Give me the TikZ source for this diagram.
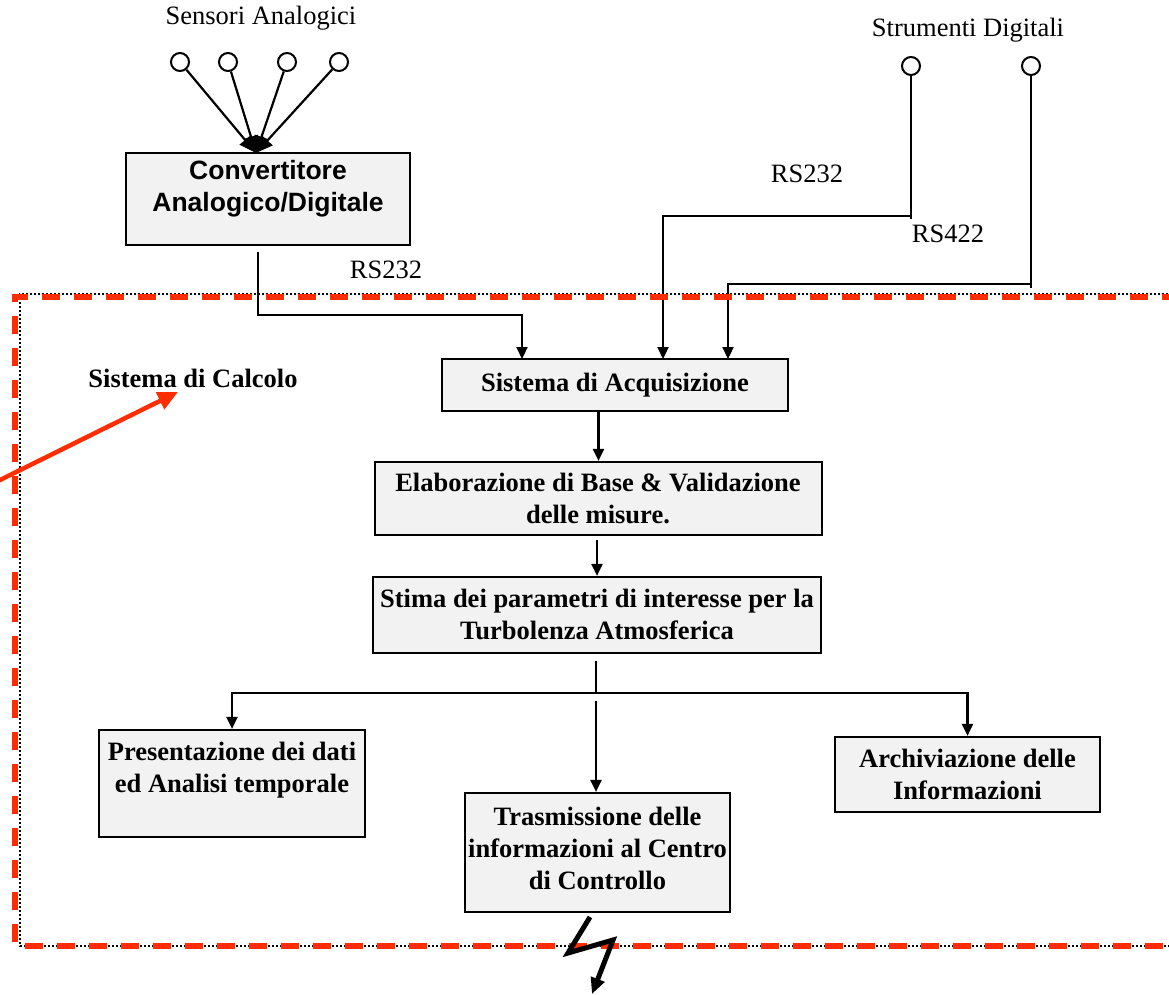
\documentclass[tikz,border=0pt]{standalone}
\usepackage{fontspec}
\setmainfont{Liberation Serif}
\newfontfamily\arialfont{Liberation Sans}
\usetikzlibrary{arrows.meta}
\definecolor{boxfill}{HTML}{F2F2F2}
\definecolor{framered}{RGB}{255,45,0}
\begin{document}
\begin{tikzpicture}[x=1pt,y=-1pt,
  box/.style={draw, line width=2.2pt, fill=boxfill, inner sep=0pt},
  txt/.style={font=\fontsize{26.5}{32}\selectfont, align=center, inner sep=0pt},
  btxt/.style={font=\fontsize{26.5}{32}\selectfont\bfseries, align=center, inner sep=0pt},
  atxt/.style={font=\arialfont\fontsize{26.5}{32}\selectfont\bfseries, align=center, inner sep=0pt},
  conn/.style={line width=2.2pt},
  arr/.style={conn, -{Triangle[length=12pt,width=11pt]}},
  sarr/.style={conn, -{Triangle[length=17pt,width=14pt]}},
  port/.style={circle, draw, line width=2pt, minimum size=18pt, inner sep=0pt, fill=white},
  blackframe/.style={line width=2.2pt, dash pattern=on 2pt off 2pt},
  redframe/.style={draw=framered, line width=5.5pt, dash pattern=on 18pt off 14pt},
  redarrow/.style={draw=framered, line width=4.5pt, -{Triangle[length=20pt,width=18pt]}, framered},
  bolt/.style={line width=5pt, line join=miter, -{Triangle[length=16pt,width=14pt]}}]

\useasboundingbox (0,0) rectangle (1169,994);

% ---- boxes ----
\node[box, minimum width=284pt, minimum height=92pt] (conv) at (268,199) {};
\node[atxt] (convt) at (268,189) {Convertitore\\Analogico/Digitale};

\node[box, minimum width=346pt, minimum height=52pt] (acq) at (615,385) {};
\node[btxt] (acqt) at (615,385) {Sistema di Acquisizione};

\node[box, minimum width=447pt, minimum height=73pt] (elab) at (598.5,498.5) {};
\node[btxt] (elabt) at (598,498) {Elaborazione di Base \& Validazione\\delle misure.};

\node[box, minimum width=448pt, minimum height=76pt] (stima) at (597,615) {};
\node[btxt] (stimat) at (597,614) {Stima dei parametri di interesse per la\\Turbolenza Atmosferica};

\node[box, minimum width=266pt, minimum height=107pt] (pres) at (232,783.5) {};
\node[btxt] (prest) at (232,770) {Presentazione dei dati\\ed Analisi temporale};

\node[box, minimum width=265pt, minimum height=119pt] (tras) at (597.5,852.5) {};
\node[btxt] (trast) at (597.5,848) {Trasmissione delle\\informazioni al Centro\\di Controllo};

\node[box, minimum width=265pt, minimum height=75pt] (arch) at (967.5,774.5) {};
\node[btxt] (archt) at (967.5,774) {Archiviazione delle\\Informazioni};

% ---- labels ----
\node[txt] (lsens) at (261,18) {Sensori Analogici};
\node[txt] (ldig) at (968,30) {Strumenti Digitali};
\node[txt] (lrs1) at (386,270) {RS232};
\node[txt] (lrs2) at (807,174) {RS232};
\node[txt] (lrs3) at (948,234) {RS422};
\node[btxt] (lcalc) at (193,378) {Sistema di Calcolo};

% ---- ports ----
\node[port] (s1) at (180,62) {};
\node[port] (s2) at (228,62) {};
\node[port] (s3) at (287,62) {};
\node[port] (s4) at (339,62) {};
\node[port] (d1) at (911,66) {};
\node[port] (d2) at (1031,66) {};

% ---- coordinates ----
\coordinate (cin) at (256,153);
\coordinate (c1) at (258,252);
\coordinate (j1) at (522,315);
\coordinate (a1) at (522,359);
\coordinate (a2) at (663,359);
\coordinate (a3) at (728,359);
\coordinate (k1) at (911,216);
\coordinate (k2) at (1031,284);
\coordinate (br) at (596,693);

% ---- connectors ----
\foreach \s in {s1,s2,s3,s4} \draw[sarr] (\s) -- (cin);
\draw[arr] (c1) |- (j1) -- (a1);
\draw[conn] (d1) -- ([yshift=-3pt]k1);
\draw[arr] (k1) -| (a2);
\draw[conn] (d2) -- ([yshift=-4pt]k2);
\draw[arr] (k2) -| (a3);
\draw[arr] (acq.south -| elab.north) -- (elab.north);
\draw[arr] ([yshift=-4pt]elab.south -| stima.north) -- (stima.north);
\draw[conn] ([yshift=-7pt]stima.south -| br) -- (br);
\draw[arr] (br) -| (pres.north);
\draw[arr] (br) -| (arch.north);
\draw[arr] ([yshift=-8pt]br) -- (br |- tras.north);

% ---- frames ----
\coordinate (fb1) at (1180,294);
\coordinate (fb2) at (20,294);
\coordinate (fb3) at (20,946);
\coordinate (fb4) at (1180,946);
\draw[blackframe] (fb1) -- (fb2) -- (fb3) -- (fb4);
\coordinate (fr1) at (1180,297);
\coordinate (fr2) at (15,297);
\coordinate (fr3) at (15,946);
\coordinate (fr4) at (1180,946);
\draw[redframe] (fr1) -- (fr2) -- (fr3) -- (fr4);

% ---- red arrow ----
\coordinate (ra0) at (-2,481);
\coordinate (ra1) at (178,392);
\draw[redarrow] (ra0) -- (ra1);

% ---- lightning ----
\coordinate (b0) at (590,917);
\coordinate (b1) at (568,953);
\coordinate (b2) at (613,940);
\coordinate (b3) at (592,994);
\draw[bolt] (b0) -- (b1) -- (b2) -- (b3);

\end{tikzpicture}
\end{document}
